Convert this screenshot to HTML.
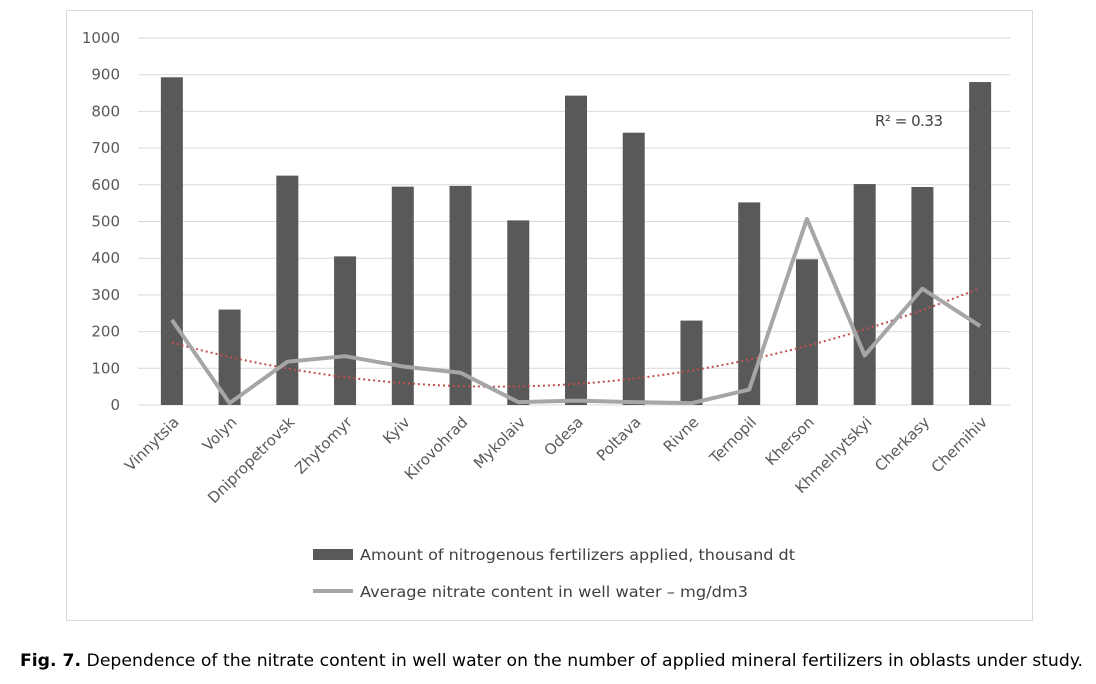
<!DOCTYPE html>
<html><head><meta charset="utf-8"><style>
body{margin:0;background:#fff;width:1096px;height:679px;overflow:hidden;font-family:"Liberation Sans",sans-serif}
svg text{font-family:"DejaVu Sans","Liberation Sans",sans-serif}
</style></head><body>
<svg id="c" width="1096" height="679">
<rect x="66.5" y="10.5" width="966" height="610" fill="#fff" stroke="#d9d9d9"/>
<g id="grid"></g><g id="bars"></g><g id="trend"></g><g id="line"></g><g id="labels"></g>
<text x="875" y="126" font-size="15" fill="#404040" textLength="68">R² = 0.33</text>
<rect x="313" y="549" width="40" height="11" fill="#595959"/>
<text x="360" y="560" font-size="15" fill="#404040" textLength="435" lengthAdjust="spacingAndGlyphs">Amount of nitrogenous fertilizers applied, thousand dt</text>
<line x1="313" y1="591" x2="353" y2="591" stroke="#a6a6a6" stroke-width="4"/>
<text x="360" y="597" font-size="15" fill="#404040" textLength="388" lengthAdjust="spacingAndGlyphs">Average nitrate content in well water – mg/dm3</text>
<text x="20" y="666" font-size="17" fill="#000" textLength="1063" lengthAdjust="spacingAndGlyphs"><tspan font-weight="bold">Fig. 7.</tspan> Dependence of the nitrate content in well water on the number of applied mineral fertilizers in oblasts under study.</text>
</svg>
<script>
const categories=["Vinnytsia","Volyn","Dnipropetrovsk","Zhytomyr","Kyiv","Kirovohrad","Mykolaiv","Odesa","Poltava","Rivne","Ternopil","Kherson","Khmelnytskyi","Cherkasy","Chernihiv"];
const fertilizers=[893,260,625,405,595,597,503,843,742,230,552,397,602,594,880];
const nitrate=[232,5,118,133,105,88,8,12,8,5,42,507,135,317,215];
const ticks=[0,100,200,300,400,500,600,700,800,900,1000];
const NS="http://www.w3.org/2000/svg";
const x0=143,x1=1009,yb=405,yt=38;
const step=(x1-x0)/categories.length;
const X=i=>x0+step*(i+0.5);
const Y=v=>yb-(v/1000)*(yb-yt);
function mk(t,a,p){const e=document.createElementNS(NS,t);for(const k in a)e.setAttribute(k,a[k]);document.getElementById(p).appendChild(e);return e;}
ticks.forEach(t=>{
 const l=mk('line',{x1:138,x2:1010,y1:Y(t),y2:Y(t),stroke:'#d9d9d9'},'grid');
 
 
 const tx=mk('text',{x:120,y:Y(t)+5,'text-anchor':'end','font-size':15,fill:'#595959'},'grid');
 tx.textContent=t;
 
 
});
fertilizers.forEach((v,i)=>{
 const r=mk('rect',{x:X(i)-11,y:Y(v),width:22,height:yb-Y(v),fill:'#595959'},'bars');
 
 
 const tx=mk('text',{transform:`translate(${X(i)+8},${yb+18}) rotate(-45)`,'text-anchor':'end','font-size':15,fill:'#595959'},'labels');
 tx.textContent=categories[i];
 
 
});
const pl=mk('polyline',{points:nitrate.map((v,i)=>X(i)+','+Y(v)).join(' '),fill:'none',stroke:'#a6a6a6','stroke-width':4,'stroke-linejoin':'round'},'line');


(function(){
 let S=[0,0,0,0,0],T=[0,0,0];
 nitrate.forEach((y,i)=>{const x=i+1;for(let k=0;k<5;k++)S[k]+=Math.pow(x,k);for(let k=0;k<3;k++)T[k]+=y*Math.pow(x,k);});
 const A=[[S[0],S[1],S[2],T[0]],[S[1],S[2],S[3],T[1]],[S[2],S[3],S[4],T[2]]];
 for(let i=0;i<3;i++){for(let j=i+1;j<3;j++){const f=A[j][i]/A[i][i];for(let k=i;k<4;k++)A[j][k]-=f*A[i][k];}}
 const c=[0,0,0];for(let i=2;i>=0;i--){let s=A[i][3];for(let k=i+1;k<3;k++)s-=A[i][k]*c[k];c[i]=s/A[i][i];}
 const pts=[];for(let t=0;t<=140;t++){const x=1+t/10;pts.push((x0+step*(x-0.5))+','+Y(c[0]+c[1]*x+c[2]*x*x));}
 const p=mk('polyline',{points:pts.join(' '),fill:'none',stroke:'#c0504d','stroke-width':2,'stroke-dasharray':'2 3'},'trend');
 
 
})();
</script>
</body></html>
